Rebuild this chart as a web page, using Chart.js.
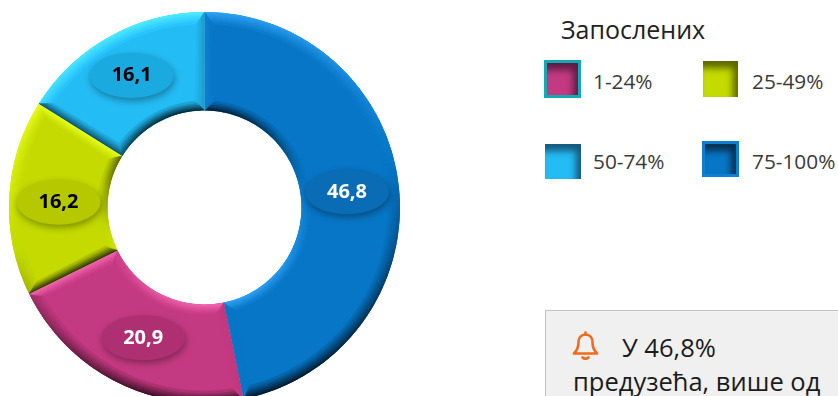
<!DOCTYPE html>
<html lang="sr">
<head>
<meta charset="utf-8">
<title>Запослених</title>
<script src="https://cdn.jsdelivr.net/npm/chart.js@4"></script>
<style>
    html, body { margin: 0; padding: 0; background: #fff; }
    body { position: relative; width: 838px; height: 396px; overflow: hidden; font-family: "Open Sans", sans-serif; color: #333; }
    #chartWrap { position: absolute; left: 0; top: 0; width: 409px; height: 415px; }
    #legendTitle { position: absolute; left: 561px; top: 12px; font-size: 25px; line-height: 34px; color: #222; }
    .swatch { position: absolute; box-sizing: border-box; }
    .legendText { position: absolute; font-size: 20.800px; line-height: 24px; color: #3a3a3a; white-space: nowrap; }
    #callout { position: absolute; left: 545px; top: 310px; width: 320px; height: 120px; box-sizing: border-box; background: #f0f0f0; border: 1px solid #c4c4c4; }
    #bell { position: absolute; left: 572px; top: 331px; }
    .calloutText { position: absolute; font-size: 25.500px; line-height: 32px; color: #1c1c1c; white-space: nowrap; }
</style>
</head>
<body>
<div id="chartWrap"><canvas id="donut"></canvas></div>
<div id="legendTitle">Запослених</div>
<div id="legend"></div>
<div id="callout"></div>
<svg id="bell" width="27" height="30" viewBox="0 0 27 30" fill="none" stroke="#f26a1b" stroke-width="2.6" stroke-linejoin="round" stroke-linecap="round">
    <path d="M13.5 3.5c-4.6 0-7 3.6-7 8 0 5-1.4 8-4.6 11h23.2c-3.2-3-4.6-6-4.6-11 0-4.400-2.400-8-7-8z"/>
    <path d="M13.500 1.500v2"/>
    <path d="M10.500 26.500c1.500 1.600 4.500 1.600 6 0"/>
</svg>
<div class="calloutText" style="left:622px;top:331px">У 46,8%</div>
<div class="calloutText" style="left:573px;top:365px">предузећа, више од</div>

<script>
const categories = ['75-100%', '1-24%', '25-49%', '50-74%'];
const shares = [46.8, 20.9, 16.2, 16.1];
const sliceColors = ['#0876c6', '#c43a82', '#c4da00', '#24bcf5'];
const badgeColors = ['#0a6cb4', '#ae2f72', '#b6c800', '#1aaae0'];
const labelColors = ['#ffffff', '#ffffff', '#000000', '#000000'];

// legend order and look in the picture differ from the slice order
const legendOrder = [1, 2, 3, 0];
const legendBoxes = [
    { left: 544, top: 60, w: 37, h: 38, border: '3px solid #12a9b3', inset: '#5e1c44' },
    { left: 703, top: 61, w: 35, h: 36, border: 'none', inset: '#5c6600' },
    { left: 545, top: 144, w: 36, h: 35, border: 'none', inset: '#16587a' },
    { left: 702, top: 141, w: 37, h: 36, border: '3px solid #0f7fd0', inset: '#06304f' }
];
const legendTextLeft = [593, 752, 593, 752];
const legendTextTop = [69, 69, 149, 149];

// badges were dragged by hand in the original, so they sit a little off the slice middle
const badgeNudgeX = [-3, 3, 0, -2];
const badgeNudgeY = [-1, -1, 2, -4];

// --- Bevel + value badges ---
function ringOutline(arc, width) {
    // sampled outline of the slice, inset by "width" when it is > 0
    const cx = arc.x, cy = arc.y;
    const outerR = arc.outerRadius - width, innerR = arc.innerRadius + width * 0.8;
    const outerInset = width * 0.7 / arc.outerRadius, innerInset = width * 0.7 / arc.innerRadius;
    const pts = [];
    const steps = 90;
    for (let i = 0; i <= steps; i++) {
        const a = arc.startAngle + outerInset + (arc.endAngle - arc.startAngle - 2 * outerInset) * i / steps;
        pts.push([cx + outerR * Math.cos(a), cy + outerR * Math.sin(a)]);
    }
    for (let i = steps; i >= 0; i--) {
        const a = arc.startAngle + innerInset + (arc.endAngle - arc.startAngle - 2 * innerInset) * i / steps;
        pts.push([cx + innerR * Math.cos(a), cy + innerR * Math.sin(a)]);
    }
    return pts;
}

function shadeColor(hex, shade, fade) {
    const c = [1, 3, 5].map((p) => parseInt(hex.substr(p, 2), 16));
    const out = c.map((v) => {
        if (shade > 0) return Math.min(255, v * (1 + 0.2 * shade * fade) + (255 - v) * 0.16 * shade * fade);
        return v * (1 + 0.78 * shade * fade);
    });
    return 'rgb(' + out.map(Math.round).join(',') + ')';
}

const bevelPlugin = {
    id: 'bevel',
    afterDatasetsDraw(chart) {
        const ctx = chart.ctx;
        const layers = 6, layerWidth = 2;
        const lightX = -0.22, lightY = -0.975;
        chart.getDatasetMeta(0).data.forEach((arc, sliceIndex) => {
            const edge = ringOutline(arc, 0);
            ctx.save();
            ctx.beginPath();
            edge.forEach((p, i) => (i ? ctx.lineTo(p[0], p[1]) : ctx.moveTo(p[0], p[1])));
            ctx.closePath();
            ctx.clip();
            ctx.filter = 'blur(0.7px)';
            for (let k = 0; k < layers; k++) {
                const outer = ringOutline(arc, k * layerWidth);
                const inner = ringOutline(arc, (k + 1) * layerWidth);
                const fade = 1 - k / layers;
                for (let i = 0; i < outer.length; i++) {
                    const j = (i + 1) % outer.length;
                    const ex = outer[j][0] - outer[i][0], ey = outer[j][1] - outer[i][1];
                    const len = Math.hypot(ex, ey) || 1;
                    // outline runs clockwise on screen, so the outward normal is (ey, -ex)
                    const shade = (ey * lightX - ex * lightY) / len;
                    const col = shadeColor(sliceColors[sliceIndex], shade, fade);
                    ctx.fillStyle = col;
                    ctx.strokeStyle = col;
                    ctx.lineWidth = 0.6;
                    ctx.beginPath();
                    ctx.moveTo(outer[i][0], outer[i][1]);
                    ctx.lineTo(outer[j][0], outer[j][1]);
                    ctx.lineTo(inner[j][0], inner[j][1]);
                    ctx.lineTo(inner[i][0], inner[i][1]);
                    ctx.closePath();
                    ctx.fill();
                    ctx.stroke();
                }
            }
            ctx.restore();
        });
    },
    afterDraw(chart) {
        const ctx = chart.ctx;
        chart.getDatasetMeta(0).data.forEach((arc, i) => {
            const pos = arc.tooltipPosition();
            const x = pos.x + badgeNudgeX[i], y = pos.y + badgeNudgeY[i];
            ctx.save();
            ctx.shadowColor = 'rgba(0,0,0,0.35)';
            ctx.shadowBlur = 7;
            ctx.shadowOffsetX = 1;
            ctx.shadowOffsetY = 3;
            ctx.fillStyle = badgeColors[i];
            ctx.beginPath();
            ctx.ellipse(x, y, 42, 22.5, 0, 0, Math.PI * 2);
            ctx.fill();
            ctx.restore();
            ctx.fillStyle = labelColors[i];
            ctx.font = 'bold 20px "Open Sans", sans-serif';
            ctx.textAlign = 'center';
            ctx.textBaseline = 'middle';
            ctx.fillText(String(shares[i]).replace('.', ','), x, y);
        });
    }
};

new Chart(document.getElementById('donut'), {
    type: 'doughnut',
    data: {
        labels: categories,
        datasets: [{
            data: shares,
            backgroundColor: sliceColors,
            borderWidth: 0
        }]
    },
    options: {
        responsive: true,
        maintainAspectRatio: false,
        animation: false,
        cutout: '49.6%',
        layout: { padding: 9 },
        plugins: { legend: { display: false }, tooltip: { enabled: false } }
    },
    plugins: [bevelPlugin]
});

// --- Legend ---
const legendEl = document.getElementById('legend');
legendOrder.forEach((sliceIndex, i) => {
    const box = legendBoxes[i];
    const swatch = document.createElement('div');
    swatch.className = 'swatch';
    swatch.style.cssText = `left:${box.left}px;top:${box.top}px;width:${box.w}px;height:${box.h}px;` +
        `background:${sliceColors[sliceIndex]};border:${box.border};` +
        `box-shadow:inset -5px 7px 7px ${box.inset};`;
    legendEl.appendChild(swatch);

    const text = document.createElement('div');
    text.className = 'legendText';
    text.style.left = legendTextLeft[i] + 'px';
    text.style.top = legendTextTop[i] + 'px';
    text.textContent = categories[sliceIndex];
    legendEl.appendChild(text);
});
</script>
</body>
</html>
